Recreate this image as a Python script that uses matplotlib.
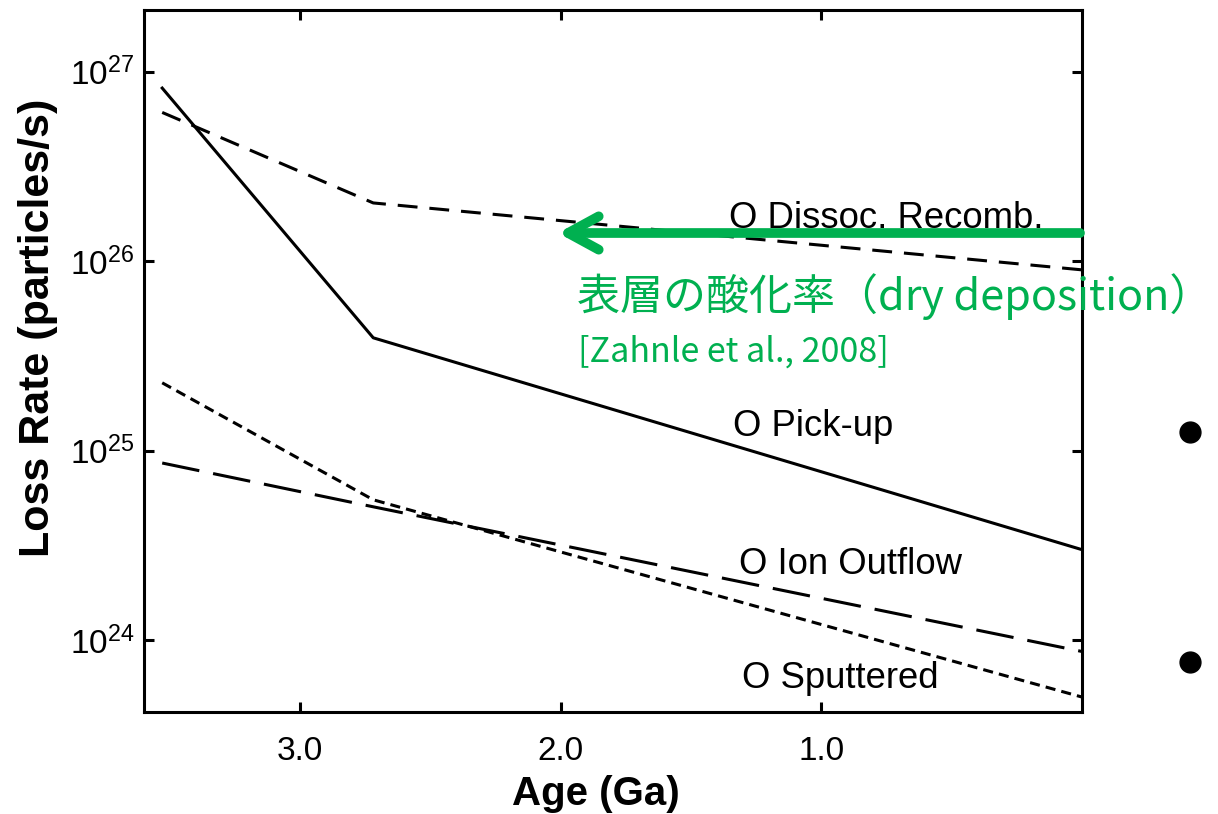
import numpy as np
import matplotlib
matplotlib.use("Agg")
import matplotlib.pyplot as plt
from matplotlib.ticker import FixedLocator, NullLocator, FuncFormatter
from matplotlib.lines import Line2D

plt.rcParams['font.family'] = ['Liberation Sans', 'DejaVu Sans']
plt.rcParams['mathtext.fontset'] = 'custom'
plt.rcParams['mathtext.rm'] = 'Liberation Sans'
plt.rcParams['mathtext.it'] = 'Liberation Sans:italic'
plt.rcParams['mathtext.bf'] = 'Liberation Sans:bold'

# O loss rates vs age (particles/s)
ages = [3.53, 2.72, 0.0]
pickup = [8.2e26, 3.94e25, 3.0e24]
dissoc = [6.1e26, 2.03e26, 9.0e25]
outflow = [8.6e24, 5.05e24, 8.7e23]
sputter = [2.28e25, 5.5e24, 5.0e23]

age_ticks = [3.0, 2.0, 1.0]
rate_ticks = [1e24, 1e25, 1e26, 1e27]

green = '#00B050'

fig = plt.figure(figsize=(12.18, 8.14), dpi=100)
ax = fig.add_axes([0.1182, 0.1253, 0.7701, 0.8624])

lw = 2.2
ax.plot(ages, pickup, color='black', lw=lw, linestyle='-')
ax.plot(ages, dissoc, color='black', lw=lw, linestyle=(0, (6.5, 3.9)))
ax.plot(ages, outflow, color='black', lw=lw, linestyle=(0, (12.4, 4.6)))
ax.plot(ages, sputter, color='black', lw=lw, linestyle=(0, (3.3, 2.0)))

ax.set_yscale('log')
ax.set_xlim(3.6, 0.0)
ax.set_ylim(10**23.62, 10**27.326)

ax.xaxis.set_major_locator(FixedLocator(age_ticks))
ax.xaxis.set_major_formatter(FuncFormatter(lambda v, p: f"{v:.1f}"))
ax.yaxis.set_major_locator(FixedLocator(rate_ticks))
ax.yaxis.set_minor_locator(NullLocator())
ax.yaxis.set_major_formatter(FuncFormatter(lambda v, p: r"$\mathregular{10^{%d}}$" % round(np.log10(v))))

ax.tick_params(axis='both', which='major', direction='in', length=7, width=2.2,
               top=True, right=True)
ax.tick_params(axis='x', pad=17, labelsize=24)
ax.tick_params(axis='y', pad=7, labelsize=24)
for s in ax.spines.values():
    s.set_linewidth(2.2)

ax.set_xlabel('Age (Ga)', fontsize=29, fontweight='bold')
ax.set_ylabel('Loss Rate (particles/s)', fontsize=31, fontweight='bold')
ax.xaxis.set_label_coords(0.482, -0.09)
ax.yaxis.set_label_coords(-0.092, 0.548)

lab = dict(fontsize=26.3, color='black', va='baseline', ha='left')
ax.text(1.354, 1.50e26, 'O Dissoc. Recomb.', **lab)
ax.text(1.338, 1.20e25, 'O Pick-up', **lab)
ax.text(1.315, 2.24e24, 'O Ion Outflow', **lab)
ax.text(1.304, 5.6e23, 'O Sputtered', **lab)

# green annotation: arrow pointing to earlier times
ya = 1 - 233 / 814
ax.annotate('', xy=(558 / 1218, ya), xytext=(1080 / 1218, ya),
            xycoords='figure fraction', textcoords='figure fraction',
            arrowprops=dict(arrowstyle='->,head_length=1.1,head_width=0.6',
                            color=green, lw=7, mutation_scale=20,
                            shrinkA=0, shrinkB=0, capstyle='round',
                            joinstyle='round'),
            annotation_clip=False)

cjk = ['Noto Sans CJK JP', 'DejaVu Sans']
fig.text(577 / 1218, 1 - 297 / 814, '表層の酸化率（dry deposition）',
         fontsize=31, color=green, family=cjk, va='center', ha='left')
fig.text(578 / 1218, 1 - 352 / 814, '[Zahnle et al., 2008]',
         fontsize=24.5, color=green, family=cjk, va='center', ha='left')

# slide bullets on the right
for yb in [432, 662]:
    fig.add_artist(Line2D([1190 / 1218], [1 - yb / 814], marker='o', markersize=15,
                          color='black', transform=fig.transFigure))

fig.savefig('out.png', dpi=100)
